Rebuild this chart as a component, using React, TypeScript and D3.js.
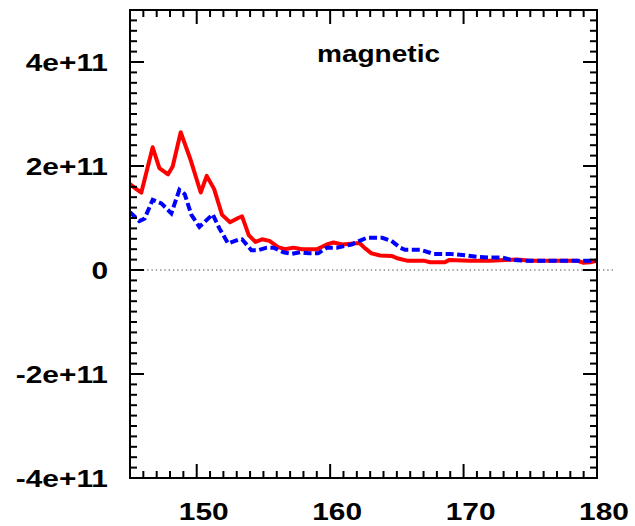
import React from "react";
import * as d3 from "d3";

const title = "magnetic";
const xTickValues = [150, 160, 170, 180];
const yTickValues = [-4e11, -2e11, 0, 2e11, 4e11];
const yTickLabels = ["-4e+11", "-2e+11", "0", "2e+11", "4e+11"];

const redLon = [145.0, 145.5, 145.85, 146.7, 147.2, 147.85, 148.2, 148.8, 149.5, 150.3, 150.75, 151.3, 151.9, 152.5, 153.1, 153.4, 153.9, 154.4, 154.9, 155.45, 156.1, 156.6, 157.25, 157.9, 159.0, 159.75, 160.25, 160.9, 161.75, 162.2, 162.6, 163.1, 163.75, 164.6, 165.1, 165.75, 167.0, 167.5, 168.6, 168.9, 170.5, 172.0, 174.0, 175.0, 178.5, 179.0, 179.5, 180.0];
const redVal = [1.65, 1.55, 1.49, 2.36, 1.96, 1.84, 1.99, 2.65, 2.15, 1.49, 1.81, 1.56, 1.06, 0.92, 1.0, 1.03, 0.67, 0.54, 0.59, 0.56, 0.44, 0.40, 0.43, 0.40, 0.40, 0.49, 0.53, 0.49, 0.51, 0.52, 0.42, 0.32, 0.28, 0.27, 0.22, 0.18, 0.18, 0.15, 0.15, 0.19, 0.18, 0.18, 0.2, 0.18, 0.18, 0.14, 0.15, 0.18];

const blueLon = [145.0, 145.7, 146.1, 146.7, 147.35, 148.1, 148.7, 149.1, 149.6, 150.2, 151.2, 151.7, 152.35, 153.1, 153.4, 154.1, 154.6, 155.25, 155.75, 156.5, 157.1, 157.75, 158.4, 159.1, 159.75, 160.5, 161.25, 161.6, 162.2, 162.75, 163.9, 164.6, 165.25, 165.6, 166.75, 167.75, 169.0, 170.25, 171.1, 172.0, 172.9, 173.5, 174.5, 180.0];
const blueVal = [1.11, 0.94, 0.99, 1.35, 1.28, 1.09, 1.54, 1.46, 1.06, 0.83, 1.07, 0.80, 0.51, 0.58, 0.59, 0.38, 0.38, 0.43, 0.43, 0.34, 0.31, 0.34, 0.32, 0.32, 0.43, 0.43, 0.47, 0.49, 0.56, 0.62, 0.62, 0.56, 0.43, 0.39, 0.39, 0.31, 0.31, 0.28, 0.25, 0.24, 0.24, 0.2, 0.18, 0.18];

const W = 635, H = 526;
const L = 130, R = 597, T = 10, B = 478;
const FONT = "'Liberation Sans', Arial, sans-serif";
const SX = 1.3;

export default function App() {
  const x = d3.scaleLinear().domain([145, 180]).range([L, R]);
  const y = d3.scaleLinear().domain([-4e11, 5e11]).range([B, T]);
  const line = d3.line<[number, number]>().x(d => x(d[0])).y(d => y(d[1]));
  const red: [number, number][] = redLon.map((v, i) => [v, redVal[i] * 1e11]);
  const blue: [number, number][] = blueLon.map((v, i) => [v, blueVal[i] * 1e11]);

  const xMinor = d3.range(145, 181, 1);
  const yMinor = d3.range(-40, 51, 2).map(v => v * 1e10);
  const isMajorX = (v: number) => v % 10 === 0;
  const isMajorY = (v: number) => Math.abs(Math.round(v / 1e10)) % 20 === 0;

  return (
    <svg width={W} height={H} style={{ position: "absolute", left: 0, top: 0, background: "#fff" }}>
      <defs>
        <clipPath id="plot">
          <rect x={L} y={T} width={R - L} height={B - T} />
        </clipPath>
      </defs>
      <line x1={L} x2={614} y1={y(0)} y2={y(0)} stroke="#444" strokeWidth={1.2} strokeDasharray="1.3,3" />
      <g clipPath="url(#plot)">
        <path d={line(red) || ""} fill="none" stroke="#ff0000" strokeWidth={4} strokeLinejoin="round" />
        <path d={line(blue) || ""} fill="none" stroke="#0000ff" strokeWidth={4} strokeDasharray="8,3.5" />
      </g>
      <g stroke="#000" strokeWidth={2}>
        {xMinor.map(v => {
          const len = isMajorX(v) ? 14 : 7;
          return (
            <g key={"x" + v}>
              <line x1={x(v)} x2={x(v)} y1={B} y2={B - len} />
              <line x1={x(v)} x2={x(v)} y1={T} y2={T + len} />
            </g>
          );
        })}
        {yMinor.map(v => {
          const len = isMajorY(v) ? 14 : 7;
          return (
            <g key={"y" + v}>
              <line x1={L} x2={L + len} y1={y(v)} y2={y(v)} />
              <line x1={R} x2={R - len} y1={y(v)} y2={y(v)} />
            </g>
          );
        })}
        <rect x={L} y={T} width={R - L} height={B - T} fill="none" />
      </g>
      <g fontFamily={FONT} fontWeight="bold" fontSize={23} fill="#000">
        {xTickValues.map(v => (
          <text key={"xl" + v} transform={`translate(${x(v) + 7},520) scale(${SX},1)`} textAnchor="middle">
            {String(v)}
          </text>
        ))}
        {yTickValues.map((v, i) => (
          <text key={"yl" + v} transform={`translate(108,${y(v) + 8.5}) scale(${SX},1)`} textAnchor="end">
            {yTickLabels[i]}
          </text>
        ))}
        <text transform={`translate(378.5,62) scale(1.22,1)`} textAnchor="middle">{title}</text>
      </g>
    </svg>
  );
}
